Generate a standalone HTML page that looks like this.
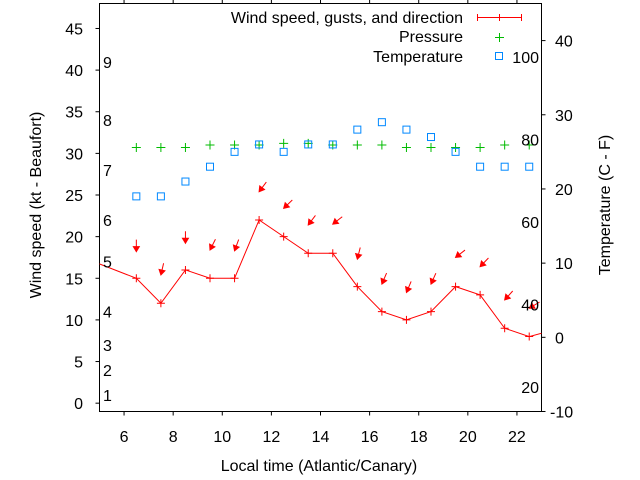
<!DOCTYPE html>
<html><head><meta charset="utf-8"><style>
body{margin:0;background:#fff}
svg{display:block;font-family:"Liberation Sans",sans-serif;font-size:16px}
</style></head><body>
<svg id="chart" width="640" height="480">
<rect x="99.5" y="3.5" width="442" height="408" fill="none" stroke="#000"/>
<g id="ticks"></g>
<g id="marks"></g>
<g id="labels"></g>
<text x="319" y="471" text-anchor="middle">Local time (Atlantic/Canary)</text>
<text transform="translate(41,205) rotate(-90)" text-anchor="middle">Wind speed (kt - Beaufort)</text>
<text transform="translate(610,205) rotate(-90)" text-anchor="middle">Temperature (C - F)</text>
<g>
<text x="463" y="23" text-anchor="end">Wind speed, gusts, and direction</text>
<path d="M477.5 17.5H521.5M477.5 14V21M499.5 14V21M521.5 14V21" stroke="#f00" fill="none"/>
<text x="463" y="42" text-anchor="end">Pressure</text>
<path d="M495 37.5H504M499.5 33V42" stroke="#0b0"/>
<text x="463" y="62" text-anchor="end">Temperature</text>
<rect x="495.5" y="52.5" width="7" height="7" fill="none" stroke="#08f"/>
</g>
</svg>
<script>
const hours=[6.5,7.5,8.5,9.5,10.5,11.5,12.5,13.5,14.5,15.5,16.5,17.5,18.5,19.5,20.5,21.5,22.5];
const windLineHours=[4.5,6.5,7.5,8.5,9.5,10.5,11.5,12.5,13.5,14.5,15.5,16.5,17.5,18.5,19.5,20.5,21.5,22.5,23.5];
const windLine=[17.3,15,12,16,15,15,22,20,18,18,14,11,10,11,14,13,9,8,8.8];
const gusts=[18.2,15.4,19.2,18.4,18.3,25.4,23.4,21.4,21.5,17.3,14.3,13.3,14.3,17.5,16.4,12.4,11.4];
const direction=[0,13,0,27,20,37,46,37,52,14,23,23,24,52,44,42,59];
const pressure=[30.7,30.7,30.7,31.0,31.0,31.0,31.2,31.2,31.0,31.0,31.0,30.7,30.7,30.7,30.7,31.0,31.0];
const temperature=[19,19,21,23,25,26,25,26,26,28,29,28,27,25,23,23,23];
const xTicks=[6,8,10,12,14,16,18,20,22];
const yTicks=[0,5,10,15,20,25,30,35,40,45];
const y2Ticks=[-10,0,10,20,30,40];
const beaufort=[1,4,7,11,17,22,28,34,41];
const fahrenheit=[20,40,60,80,100];

const X=h=>99.5+(h-5)*(442/18);
const Y=v=>411.5-(v+1)*(408/49);
const Y2=c=>411.5-(c+10)*(408/55);
const NS='http://www.w3.org/2000/svg';
function mk(tag,attrs,parent,txt){const e=document.createElementNS(NS,tag);for(const k in attrs)e.setAttribute(k,attrs[k]);if(txt!==undefined)e.textContent=txt;document.getElementById(parent).appendChild(e);return e;}

xTicks.forEach(t=>{const x=X(t);
 let e=mk('path',{d:`M${x} 411.5V415.5M${x} 3.5V-0.5`,stroke:'#000'},'ticks');
 
 e=mk('text',{x:x,y:442,'text-anchor':'middle'},'labels',t);
 });
yTicks.forEach(t=>{const y=Y(t);
 let e=mk('path',{d:`M95.5 ${y}H99.5`,stroke:'#000'},'ticks');
 
 e=mk('text',{x:83,y:y+6,'text-anchor':'end'},'labels',t);
 });
y2Ticks.forEach(t=>{const y=Y2(t);
 let e=mk('path',{d:`M541.5 ${y}H545.5`,stroke:'#000'},'ticks');
 
 e=mk('text',{x:t<0?550:555,y:y+6},'labels',t);
 });
beaufort.forEach((b,i)=>{
 const e=mk('text',{x:103,y:Y(b)+6},'labels',i+1);
 });
fahrenheit.forEach(f=>{
 const e=mk('text',{x:539,y:Y2((f-32)*5/9)+6,'text-anchor':'end'},'labels',f);
 });

const clip=mk('clipPath',{id:'clip'},'marks');
const cr=document.createElementNS(NS,'rect');
cr.setAttribute('x',99.5);cr.setAttribute('y',3.5);cr.setAttribute('width',442);cr.setAttribute('height',408);
clip.appendChild(cr);

let line=mk('polyline',{points:windLineHours.map((h,i)=>X(h)+','+Y(windLine[i])).join(' '),fill:'none',stroke:'#f00','clip-path':'url(#clip)'},'marks');

hours.forEach((h,i)=>{
 const x=X(h),y=Y(windLine[i+1]);
 let e=mk('path',{d:`M${x-4} ${y}H${x+4}M${x} ${y-4}V${y+4}`,stroke:'#f00'},'marks');
 
 const gx=X(h),gy=Y(gusts[i]),a=direction[i]*Math.PI/180;
 const ux=Math.sin(a),uy=-Math.cos(a);
 const tx=gx+ux*12,ty=gy+uy*12;
 const px=-uy,py=ux;
 const bx=gx+ux*5,by=gy+uy*5;
 e=mk('path',{d:`M${tx} ${ty}L${gx} ${gy}M${bx+px*3} ${by+py*3}L${gx} ${gy}L${bx-px*3} ${by-py*3}Z`,stroke:'#f00',fill:'#f00','stroke-width':1},'marks');
 
 const py2=Y(pressure[i]);
 e=mk('path',{d:`M${x-4.5} ${py2}H${x+4.5}M${x} ${py2-4.5}V${py2+4.5}`,stroke:'#0b0'},'marks');
 
 const ty2=Y2(temperature[i]);
 e=mk('rect',{x:x-3.5,y:ty2-3.5,width:7,height:7,fill:'none',stroke:'#08f'},'marks');
 
});
</script>
</body></html>
